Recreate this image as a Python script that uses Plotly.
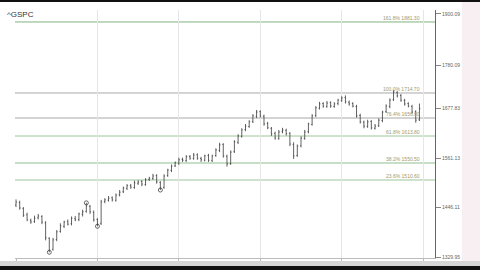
import plotly.graph_objects as go

title = "^GSPC"

opens = [1452,1458,1444,1429,1416,1413,1422,1425,1410,1374,1348,1371,1390,1402,1413,1408,1420,1418,1430,1437,
         1449,1435,1418,1409,1460,1463,1469,1463,1476,1483,1491,1498,1493,1503,1507,1500,1512,1514,1521,1505,
         1493,1521,1533,1544,1550,1559,1556,1566,1561,1570,1561,1557,1568,1556,1568,1580,1594,1566,1549,1577,
         1599,1613,1629,1636,1648,1660,1671,1660,1643,1632,1620,1608,1624,1627,1620,1594,1568,1591,1608,1624,
         1641,1662,1679,1690,1683,1692,1683,1690,1697,1704,1693,1690,1683,1662,1646,1636,1648,1632,1638,1650,
         1671,1683,1699,1716,1709,1697,1690,1683,1671,1652]
highs = [1465,1462,1447,1434,1420,1427,1431,1428,1414,1376,1375,1393,1409,1415,1418,1425,1426,1434,1441,1457,
         1452,1439,1421,1464,1468,1473,1472,1479,1487,1495,1501,1501,1509,1510,1510,1515,1518,1525,1524,1508,
         1524,1537,1547,1554,1563,1563,1569,1569,1574,1573,1565,1570,1572,1570,1585,1598,1597,1570,1580,1604,
         1618,1632,1642,1651,1665,1675,1674,1664,1647,1635,1624,1628,1633,1631,1623,1599,1594,1613,1628,1645,
         1665,1684,1694,1693,1696,1695,1693,1701,1707,1709,1697,1693,1687,1666,1650,1652,1651,1642,1655,1673,
         1688,1702,1722,1719,1712,1701,1693,1687,1674,1690]
lows = [1447,1441,1424,1414,1408,1410,1418,1407,1369,1341,1345,1367,1387,1398,1404,1404,1414,1414,1425,1434,
        1431,1413,1402,1405,1456,1460,1460,1460,1472,1480,1487,1490,1490,1499,1496,1497,1508,1511,1502,1487,
        1490,1518,1529,1541,1546,1553,1553,1558,1558,1558,1553,1554,1553,1553,1565,1576,1563,1542,1546,1574,
        1595,1610,1625,1633,1644,1656,1657,1638,1630,1614,1605,1605,1620,1615,1590,1560,1565,1587,1605,1620,
        1638,1658,1676,1680,1680,1680,1680,1686,1694,1690,1685,1681,1657,1643,1632,1633,1629,1629,1635,1646,
        1668,1679,1696,1704,1694,1685,1681,1666,1645,1649]
closes = [1459,1445,1428,1417,1412,1421,1426,1412,1375,1346,1370,1389,1403,1412,1407,1421,1417,1431,1436,1450,
          1436,1417,1407,1459,1464,1468,1464,1475,1482,1492,1497,1494,1504,1506,1501,1511,1515,1520,1506,1492,
          1520,1534,1543,1551,1558,1557,1565,1562,1569,1562,1558,1567,1557,1567,1581,1593,1567,1548,1576,1600,
          1614,1628,1637,1647,1661,1670,1661,1642,1633,1619,1609,1623,1628,1619,1595,1567,1590,1609,1623,1642,
          1661,1680,1689,1684,1691,1684,1689,1698,1703,1694,1689,1684,1661,1647,1637,1647,1633,1637,1651,1670,
          1684,1698,1717,1708,1698,1689,1684,1670,1651,1677.83]

# swing markers: (bar index, which end)
swing_lows = [9, 22, 39]
swing_highs = [19]

fib_pcts = ["161.8%", "100.0%", "76.4%", "61.8%", "38.2%", "23.6%"]
fib_values = [1881.30, 1714.70, 1656.00, 1613.80, 1550.50, 1510.60]
fib_colors = ["#7fb27f", "#a8a8a8", "#a8a8a8", "#9cc49c", "#8fbf8f", "#9cc49c"]

y_ticks = [1329.95, 1446.11, 1561.13, 1677.83, 1780.09, 1900.09]
grid_bars = [0, 22, 44, 66, 88, 110]

bars = list(range(len(closes)))

fig = go.Figure()
fig.add_trace(go.Ohlc(
    x=bars, open=opens, high=highs, low=lows, close=closes,
    increasing=dict(line=dict(color="#3a3a3a", width=0.8)),
    decreasing=dict(line=dict(color="#3a3a3a", width=0.8)),
    tickwidth=0.25, showlegend=False, hoverinfo="skip"))

fig.add_trace(go.Scatter(
    x=swing_lows + swing_highs,
    y=[lows[i] for i in swing_lows] + [highs[i] for i in swing_highs],
    mode="markers",
    marker=dict(symbol="circle-open", size=4, color="#444444", line=dict(width=0.8)),
    showlegend=False, hoverinfo="skip"))

for pct, val, col in zip(fib_pcts, fib_values, fib_colors):
    fig.add_shape(type="line", xref="paper", x0=0, x1=1, yref="y", y0=val, y1=val,
                  line=dict(color=col, width=1), layer="below")
    fig.add_annotation(xref="paper", x=0.97, yref="y", y=val, text=f"{pct} {val:.2f}",
                       showarrow=False, xanchor="right", yanchor="bottom", yshift=-1,
                       font=dict(size=5, color="#9a9a70", family="Arial"))

# window chrome
fig.add_shape(type="rect", xref="paper", yref="paper", x0=1.064, x1=1.11, y0=-0.05, y1=1.05,
              fillcolor="#f7eff2", line=dict(width=0), layer="below")
fig.add_shape(type="rect", xref="paper", yref="paper", x0=-0.05, x1=1.11, y0=-0.0323, y1=-0.012,
              fillcolor="#d6d6d6", line=dict(width=0))
fig.add_shape(type="rect", xref="paper", yref="paper", x0=-0.05, x1=1.11, y0=-0.06, y1=-0.0323,
              fillcolor="#111111", line=dict(width=0))
fig.add_shape(type="rect", xref="paper", yref="paper", x0=-0.05, x1=1.11, y0=1.032, y1=1.06,
              fillcolor="#111111", line=dict(width=0))

fig.add_annotation(xref="paper", yref="paper", x=-0.024, y=1.0, text=title, showarrow=False,
                   xanchor="left", yanchor="top", yshift=2,
                   font=dict(size=8, color="#333333", family="Arial"))

fig.update_layout(
    width=480, height=270,
    margin=dict(l=15, r=45, t=10, b=12),
    paper_bgcolor="white", plot_bgcolor="white",
    xaxis=dict(range=[-0.27, 113.2], tickvals=grid_bars, ticktext=["" for _ in grid_bars],
               showgrid=True, gridcolor="#e6e6e6", gridwidth=1, zeroline=False,
               rangeslider=dict(visible=False), showline=True, linecolor="#bbbbbb",
               ticks="outside", ticklen=2, tickcolor="#bbbbbb"),
    yaxis=dict(range=[1327.6, 1909.4], side="right", tickvals=y_ticks,
               ticktext=[f"{v:.2f}" for v in y_ticks], showgrid=False, zeroline=False,
               showline=True, linecolor="#666666", ticks="outside", ticklen=5,
               tickcolor="#888888", tickfont=dict(size=5, color="#666666", family="Arial")),
)

fig.write_html("out.html")
